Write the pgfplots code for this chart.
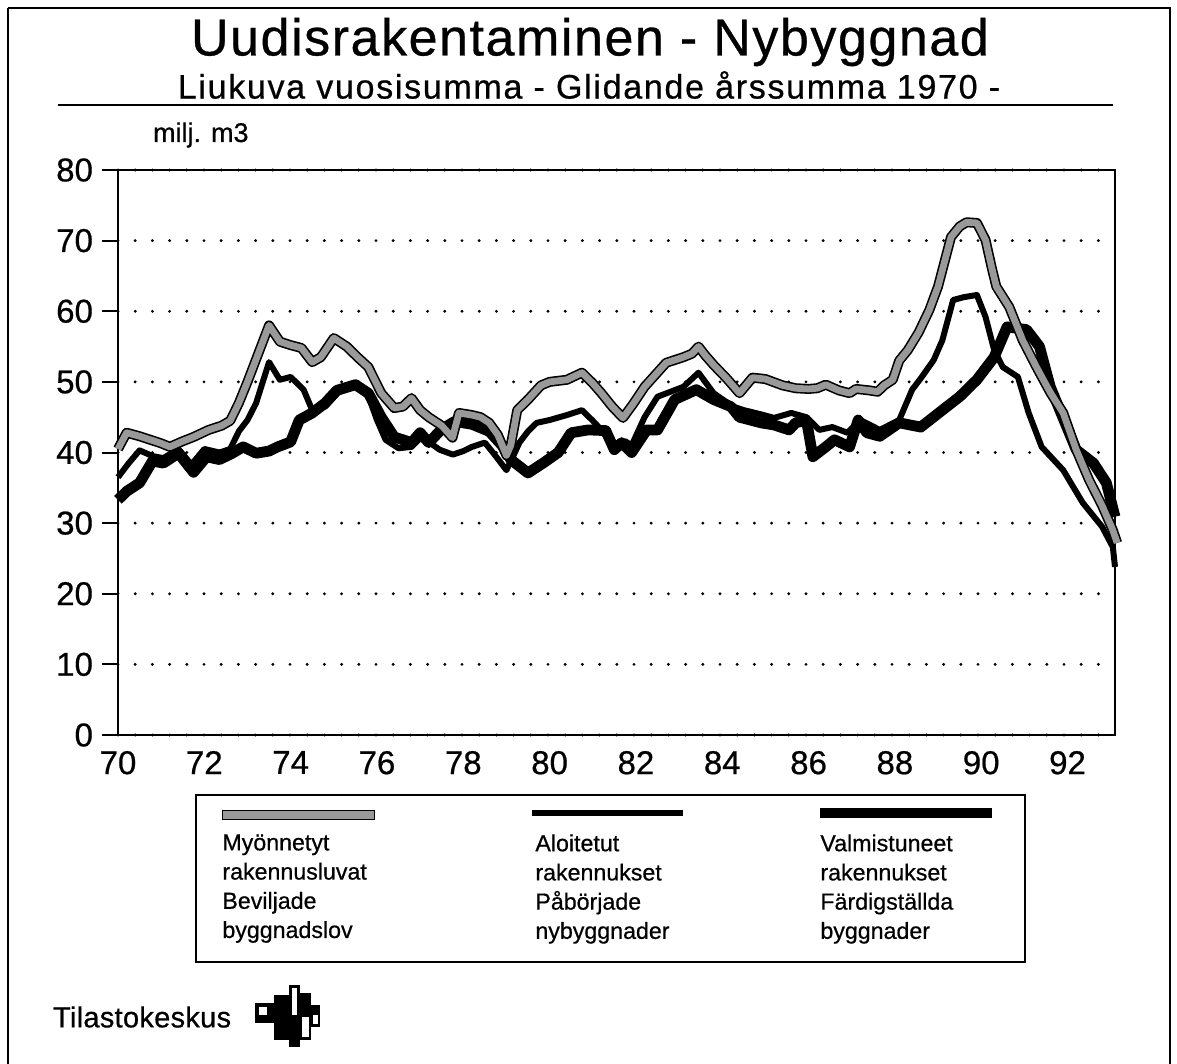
\documentclass[border=0pt]{standalone}
\usepackage{fontspec}
\setmainfont{Liberation Sans}[FakeBold=0.6]
\usepackage{pgfplots}
\usepackage{pgfplotstable}
\pgfplotsset{compat=1.18}

\pgfplotstableread{
x y
70.0 40.5
70.2 42.8
70.5 42.3
70.75 41.8
71.0 41.3
71.2 40.8
71.5 41.6
71.75 42.2
72.1 43.2
72.4 43.8
72.6 44.5
72.8 47
73.0 50
73.25 54
73.5 58.0
73.75 55.7
74.0 55.2
74.25 54.8
74.5 52.8
74.7 53.5
75.0 56.2
75.3 55.0
75.55 53.5
75.8 52.1
76.1 48.4
76.4 46.3
76.6 46.5
76.8 47.7
77.0 46.0
77.2 45.0
77.5 43.8
77.75 42.1
77.9 45.6
78.2 45.3
78.4 45.0
78.6 44.2
78.8 42.5
79.0 39.6
79.1 41
79.25 46.0
79.5 47.5
79.8 49.5
80.0 50.0
80.4 50.3
80.75 51.3
81.0 49.8
81.2 48.4
81.45 46.5
81.7 44.9
81.95 47
82.2 49.3
82.45 51
82.7 52.7
83.1 53.5
83.3 54
83.45 55
83.6 53.8
83.8 52.4
84.1 50.5
84.4 48.4
84.7 50.6
85.0 50.4
85.4 49.5
85.7 49.1
86.0 49.0
86.2 49.1
86.4 49.6
86.7 48.8
86.95 48.4
87.1 49.0
87.4 48.8
87.6 48.6
87.75 49.5
87.95 50.3
88.1 53.0
88.3 54.5
88.55 57
88.8 60.2
89.0 63.5
89.15 67
89.3 70.5
89.5 72.0
89.66 72.6
89.9 72.5
90.1 70.1
90.25 66
90.35 63.5
90.65 60.6
90.96 55.9
91.28 52.1
91.6 48.5
91.9 45.6
92.2 40.4
92.5 36.1
92.8 32.5
93.05 29.0
93.15 27.2
}\myonnetyt

\pgfplotstableread{
x y
70.0 36.5
70.25 38.5
70.5 40.3
70.8 39.5
71.05 39.2
71.4 40.5
71.7 38.3
72.0 40.5
72.35 40.0
72.6 40.5
72.8 43
73.0 44.6
73.2 47
73.5 52.8
73.75 50.3
74.0 50.7
74.3 48.9
74.5 46.0
74.8 46.5
75.1 48.5
75.5 49.5
75.8 48
76.0 44.6
76.2 41.8
76.5 40.6
76.8 40.8
77.0 42.0
77.2 41.5
77.45 40.4
77.76 39.7
78.0 40.2
78.2 40.8
78.5 41.4
78.7 39.9
79.0 37.5
79.15 39.4
79.3 41.4
79.5 43
79.7 44.2
80.0 44.6
80.4 45.3
80.75 46.0
81.0 44.5
81.2 43.2
81.5 40.8
81.75 41.6
81.9 41.0
82.2 45.0
82.5 47.9
83.1 49.3
83.45 51.3
83.8 48.4
84.25 46.5
84.5 46
84.9 45.4
85.2 44.9
85.6 45.6
85.95 45.0
86.25 43.2
86.55 43.6
86.9 42.8
87.2 44.6
87.65 43.2
88.1 44.6
88.4 48.9
88.6 50.5
88.9 53.1
89.1 55.9
89.35 61.6
89.6 62.0
89.9 62.3
90.1 59.2
90.3 54.5
90.5 52.1
90.85 50.7
91.1 45.6
91.4 40.8
91.9 37.5
92.35 32.9
92.8 29.5
93.05 26.6
93.1 23.8
}\aloitetut

\pgfplotstableread{
x y
70.0 33.3
70.2 34.5
70.5 35.7
70.8 38.8
71.05 38.5
71.4 39.9
71.75 37.2
72.05 39.4
72.35 39.0
72.65 39.9
72.9 40.8
73.2 39.9
73.5 40.2
73.7 40.8
74.0 41.5
74.2 44.6
74.5 45.6
74.8 47
75.07 48.8
75.5 49.6
75.8 48.4
76.1 45
76.4 42.2
76.8 41.4
77.0 42.8
77.2 41.4
77.5 43.3
77.8 44.4
78.2 44.0
78.6 43.0
78.9 41.0
79.1 39.0
79.5 37.1
79.85 38.5
80.2 40.0
80.5 42.8
80.9 43.2
81.3 43.1
81.5 40.4
81.67 41.4
81.9 40.0
82.25 43.2
82.5 43.2
82.9 47.5
83.4 48.9
83.8 47.5
84.2 46.5
84.4 45.0
84.9 44.2
85.2 43.9
85.55 43.2
85.7 44.2
85.95 44.6
86.1 39.4
86.4 40.8
86.6 41.8
86.95 40.8
87.15 44.6
87.35 42.8
87.65 42.3
88.1 44.2
88.6 43.6
89.1 46.0
89.5 47.9
89.9 50.3
90.3 53.5
90.6 57.8
91.05 57.4
91.35 55.0
91.6 49.3
92.2 40.4
92.6 38.5
92.9 35.7
93.1 30.9
}\valmistuneet

\begin{document}
\begin{tikzpicture}
\begin{scope}[x=0.5pt,y=-0.5pt]
\useasboundingbox (0,0) rectangle (1177,1064);
\draw[line width=1.3pt] (8,8) -- (1170,8) -- (1170,1080);
\draw[line width=1.3pt] (8,8) -- (8,1080);
\node[font=\fontsize{26}{28}\selectfont\addfontfeatures{LetterSpace=3}] at (590,42) {Uudisrakentaminen - Nybyggnad};
\node[font=\fontsize{17}{19}\selectfont\addfontfeatures{LetterSpace=5}] at (589,85) {Liukuva vuosisumma - Glidande årssumma 1970 -};
\draw[line width=1pt] (58,105) -- (1113,105);
\node[anchor=west,font=\fontsize{13.5}{16}\selectfont] at (146,135) {milj. m3};
% legend
\draw[line width=1.2pt] (196,795) rectangle (1025,962);
\draw[line width=5pt] (222,815) -- (375,815);
\draw[line width=3.6pt,black!40] (223,815) -- (374,815);
\draw[line width=3.2pt] (532,813) -- (683,813);
\draw[line width=5.2pt] (820,813) -- (992,813);
\begin{scope}[every node/.style={anchor=north west,align=left,font=\fontsize{11.6}{14.6}\selectfont,inner sep=0pt}]
\node at (222,834) {Myönnetyt\\rakennusluvat\\Beviljade\\byggnadslov};
\node at (535,834) {Aloitetut\\rakennukset\\Påbörjade\\nybyggnader};
\node at (820,834) {Valmistuneet\\rakennukset\\Färdigställda\\byggnader};
\end{scope}
% footer
\node[anchor=west,font=\fontsize{14.5}{16}\selectfont\addfontfeatures{LetterSpace=1}] at (46,1017) {Tilastokeskus};
\fill (255,1003) rectangle (274,1023);
\fill[white] (259,1007) rectangle (267,1015);
\fill (274,995) rectangle (289,1040);
\fill (289,985) rectangle (300,1047);
\fill[white] (292,988) rectangle (297,1015);
\fill (300,993) rectangle (311,1040);
\fill[white] (302,1017) rectangle (309,1037);
\fill (311,1005) rectangle (320,1027);
\fill[white] (313,1015) rectangle (318,1024);
\end{scope}
\begin{axis}[
  at={(59pt,-367.5pt)}, anchor=south west,
  scale only axis, width=498.5pt, height=282.5pt,
  xmin=70, xmax=93.1, ymin=0, ymax=80,
  xtick={70,72,...,92}, ytick={0,10,...,80},
  xticklabel style={font=\fontsize{16.5}{18}\selectfont, /pgf/number format/1000 sep={}},
  yticklabel style={font=\fontsize{16.5}{18}\selectfont},
  /pgf/number format/assume math mode=true,
  tick align=outside, major tick length=8pt,
  x tick style={draw=none},
  y tick style={line width=1pt,black},
  xtick pos=bottom, ytick pos=left,
  axis line style={line width=1pt},
  ymajorgrids,
  grid style={line width=1.6pt, line cap=round, dash pattern=on 0pt off 8.6pt, black},
  xticklabel shift=-3.5pt, yticklabel shift=1pt,
  clip=false,
]
\addplot[line width=5.4pt, black, line join=round] table {\valmistuneet};
\addplot[line width=3pt, black, line join=round] table {\aloitetut};
\addplot[line width=5pt, black, line join=round] table {\myonnetyt};
\addplot[line width=3.4pt, black!40, line join=round] table {\myonnetyt};
\end{axis}
\end{tikzpicture}
\end{document}
